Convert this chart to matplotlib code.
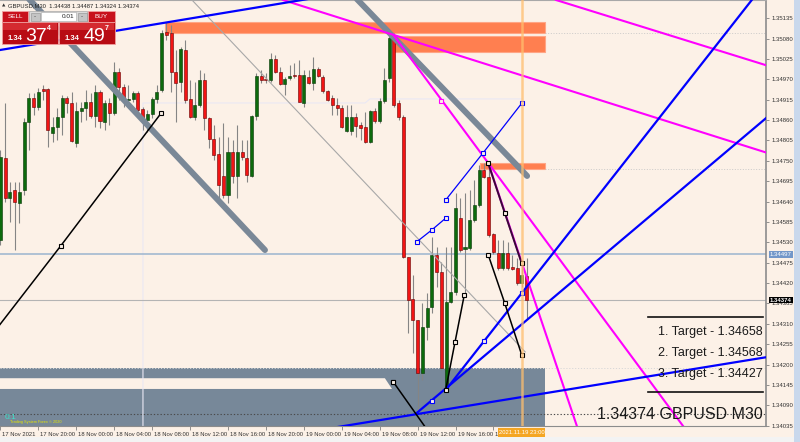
import numpy as np
import matplotlib.pyplot as plt
import matplotlib.transforms as mtransforms
from matplotlib.patches import Rectangle, Polygon

plt.rcParams['font.family'] = ['Liberation Sans', 'DejaVu Sans']

# GBPUSD M30 candles, bar 0 = 17 Nov 2021 16:00
opens = [1.34536, 1.34757, 1.34649, 1.34671, 1.34636, 1.34671, 1.34855, 1.34919, 1.34895, 1.34944,
         1.34944, 1.34825, 1.34841, 1.34868, 1.34919, 1.34906, 1.34798, 1.34884, 1.34892, 1.34909,
         1.34871, 1.34936, 1.34855, 1.34906, 1.34879, 1.34990, 1.34949, 1.34914, 1.34917, 1.34933,
         1.34890, 1.34860, 1.34876, 1.34917, 1.34941, 1.35098, 1.35095, 1.34990, 1.34963, 1.35049,
         1.34917, 1.34868, 1.34901, 1.34968, 1.34865, 1.34809, 1.34768, 1.34709, 1.34657, 1.34774,
         1.34709, 1.34774, 1.34757, 1.34709, 1.34871, 1.34979, 1.34970, 1.34968, 1.35025, 1.34990,
         1.34957, 1.34973, 1.34982, 1.34982, 1.34906, 1.34976, 1.34960, 1.34998, 1.34976, 1.34938,
         1.34919, 1.34901, 1.34892, 1.34830, 1.34830, 1.34868, 1.34846, 1.34841, 1.34801, 1.34884,
         1.34857, 1.34911, 1.34973, 1.35084, 1.34906, 1.34868, 1.34490, 1.34377, 1.34320, 1.34177,
         1.34301, 1.34355, 1.34496, 1.34450, 1.34136, 1.34369, 1.34396, 1.34595, 1.34512, 1.34514,
         1.34590, 1.34631, 1.34725, 1.34706, 1.34552, 1.34501, 1.34460, 1.34501, 1.34462, 1.34460,
         1.34420, 1.34438]
highs = [1.34779, 1.34906, 1.34693, 1.34693, 1.34693, 1.34865, 1.34933, 1.34933, 1.34946, 1.34954,
         1.34946, 1.34868, 1.34892, 1.34928, 1.34925, 1.34936, 1.34909, 1.34909, 1.34941, 1.34933,
         1.34954, 1.34941, 1.34914, 1.34919, 1.35017, 1.35000, 1.34957, 1.34954, 1.34938, 1.34938,
         1.34895, 1.34887, 1.34922, 1.34954, 1.35103, 1.35125, 1.35117, 1.35049, 1.35057, 1.35076,
         1.34968, 1.34963, 1.34995, 1.34987, 1.34868, 1.34846, 1.34814, 1.34852, 1.34814, 1.34806,
         1.34846, 1.34806, 1.34806, 1.34873, 1.34987, 1.34995, 1.34987, 1.35041, 1.35036, 1.35003,
         1.34976, 1.35008, 1.35014, 1.35022, 1.34995, 1.34995, 1.35030, 1.35003, 1.34982, 1.34941,
         1.34928, 1.34919, 1.34901, 1.34901, 1.34901, 1.34879, 1.34855, 1.34882, 1.34887, 1.34892,
         1.34919, 1.35000, 1.35095, 1.35095, 1.34914, 1.34873, 1.34490, 1.34442, 1.34320, 1.34366,
         1.34393, 1.34544, 1.34517, 1.34477, 1.34517, 1.34517, 1.34663, 1.34649, 1.34663, 1.34671,
         1.34698, 1.34739, 1.34744, 1.34739, 1.34555, 1.34536, 1.34536, 1.34531, 1.34496, 1.34487,
         1.34482, 1.34487]
lows = [1.34522, 1.34639, 1.34585, 1.34509, 1.34582, 1.34657, 1.34779, 1.34873, 1.34887, 1.34914,
        1.34787, 1.34801, 1.34806, 1.34820, 1.34879, 1.34801, 1.34787, 1.34855, 1.34860, 1.34865,
        1.34841, 1.34838, 1.34833, 1.34846, 1.34873, 1.34914, 1.34895, 1.34895, 1.34909, 1.34879,
        1.34833, 1.34828, 1.34865, 1.34906, 1.34936, 1.35076, 1.34936, 1.34855, 1.34936, 1.34906,
        1.34865, 1.34860, 1.34895, 1.34833, 1.34784, 1.34752, 1.34636, 1.34649, 1.34636, 1.34690,
        1.34649, 1.34752, 1.34693, 1.34706, 1.34860, 1.34960, 1.34960, 1.34963, 1.34987, 1.34954,
        1.34928, 1.34968, 1.34973, 1.34909, 1.34895, 1.34957, 1.34941, 1.34976, 1.34933, 1.34911,
        1.34873, 1.34873, 1.34838, 1.34828, 1.34820, 1.34814, 1.34806, 1.34798, 1.34798, 1.34852,
        1.34852, 1.34906, 1.34963, 1.34895, 1.34860, 1.34487, 1.34285, 1.34231, 1.34069, 1.34158,
        1.34266, 1.34339, 1.34409, 1.34185, 1.34131, 1.34366, 1.34388, 1.34504, 1.34393, 1.34509,
        1.34585, 1.34625, 1.34703, 1.34544, 1.34498, 1.34455, 1.34455, 1.34455, 1.34455, 1.34415,
        1.34409, 1.34324]
closes = [1.34760, 1.34649, 1.34666, 1.34639, 1.34666, 1.34855, 1.34919, 1.34895, 1.34936, 1.34938,
          1.34833, 1.34841, 1.34868, 1.34919, 1.34906, 1.34803, 1.34884, 1.34892, 1.34909, 1.34871,
          1.34936, 1.34857, 1.34906, 1.34879, 1.34990, 1.34949, 1.34917, 1.34917, 1.34933, 1.34887,
          1.34860, 1.34876, 1.34917, 1.34936, 1.35095, 1.35090, 1.34990, 1.34960, 1.35052, 1.34914,
          1.34868, 1.34901, 1.34968, 1.34865, 1.34809, 1.34766, 1.34685, 1.34657, 1.34774, 1.34709,
          1.34774, 1.34760, 1.34712, 1.34871, 1.34979, 1.34968, 1.34967, 1.35025, 1.34990, 1.34957,
          1.34971, 1.34979, 1.34980, 1.34909, 1.34982, 1.34960, 1.34998, 1.34979, 1.34938, 1.34914,
          1.34901, 1.34892, 1.34841, 1.34868, 1.34868, 1.34844, 1.34838, 1.34801, 1.34884, 1.34857,
          1.34911, 1.34968, 1.35081, 1.34901, 1.34868, 1.34490, 1.34374, 1.34320, 1.34177, 1.34301,
          1.34352, 1.34496, 1.34450, 1.34190, 1.34369, 1.34396, 1.34622, 1.34509, 1.34517, 1.34590,
          1.34631, 1.34725, 1.34706, 1.34550, 1.34504, 1.34460, 1.34501, 1.34460, 1.34459, 1.34420,
          1.34442, 1.34374]

time_ticks = [0, 8, 16, 24, 32, 40, 48, 56, 64, 72, 80, 88, 96, 104]
time_labels = ['17 Nov 2021', '17 Nov 20:00', '18 Nov 00:00', '18 Nov 04:00', '18 Nov 08:00',
               '18 Nov 12:00', '18 Nov 16:00', '18 Nov 20:00', '19 Nov 00:00', '19 Nov 04:00',
               '19 Nov 08:00', '19 Nov 12:00', '19 Nov 16:00', '19 Nov 20:00']
price_ticks = [1.35135, 1.35080, 1.35025, 1.34970, 1.34915, 1.34860, 1.34805, 1.34750, 1.34695,
               1.34640, 1.34585, 1.34530, 1.34475, 1.34420, 1.34365, 1.34310, 1.34255, 1.34200,
               1.34145, 1.34090, 1.34035]
bid = 1.34374
hline_price = 1.34497
low_line = 1.34066
cursor_bar = 110
targets = ['1. Target - 1.34658', '2. Target - 1.34568', '3. Target - 1.34427']

# chart objects, anchors as (bar, price)
zones = [(34.7, 114.9, 1.35095, 1.35125), (83.0, 114.9, 1.35044, 1.35087), (101.2, 114.9, 1.34728, 1.34744)]
gray_box = (-1, 114.9, 1.34000, 1.34190)
gray_cut = [(-1, 1.34134), (-1, 1.34163), (81.1, 1.34163), (82.6, 1.34134)]
gray_trends = [[(4.0, 1.35214), (55.8, 1.34509)], [(73.5, 1.35209), (111.1, 1.34709)]]
thin_trend = [(40.4, 1.35184), (110.7, 1.34234)]
faint_step = [(30.06, 1.34034), (30.06, 1.34906), (76.9, 1.34906), (77.95, 1.34917), (110, 1.34917)]
magenta_rays = [[(59.6, 1.35184), (82.87, 1.35090)], [(117.2, 1.35184), (161.5, 1.35008)],
                [(82.87, 1.35090), (144.0, 1.34034)], [(102.9, 1.34744), (121.6, 1.34034)]]
magenta_marks = [(92.9, 1.34912)]
blue_rays = [[(-0.1, 1.35049), (63.6, 1.35184)], [(71.0, 1.34031), (161.7, 1.34220)],
             [(93.92, 1.34131), (158.5, 1.35184)], [(87.8, 1.34069), (161.5, 1.34865)]]
blue_marks = [(102.0, 1.34263), (109.96, 1.34393), (90.97, 1.34101)]
thin_blue = [[(87.8, 1.34531), (90.97, 1.34563), (93.92, 1.34595)],
             [(93.92, 1.34644), (101.86, 1.34772), (109.96, 1.34905)]]
black_legs = [[(-1.5, 1.34285), (12.76, 1.34521), (33.86, 1.34878)],
              [(82.87, 1.34153), (91.0, 1.34006)],
              [(93.92, 1.34131), (95.9, 1.34261), (97.85, 1.34388)],
              [(102.9, 1.34496), (106.4, 1.34365), (109.96, 1.34226)]]
dark_leg = [(102.9, 1.34743), (106.4, 1.34609), (109.96, 1.34473)]

bg = '#FCF1E7'
fig = plt.figure(figsize=(8, 4.42), dpi=100)
fig.patch.set_facecolor(bg)
ax = fig.add_axes([0, 16 / 442, 766 / 800, 426 / 442])
ax.set_facecolor(bg)
ax.set_xlim(-0.1, 161.5)
ax.set_ylim(1.34034, 1.35184)

# background objects
for x0, x1, p0, p1 in zones:
    ax.add_patch(Rectangle((x0, p0), x1 - x0, p1 - p0, fc='#FF7F50', ec='#FFA585', lw=0.8, zorder=1))
ax.add_patch(Rectangle((gray_box[0], gray_box[2]), gray_box[1] - gray_box[0], gray_box[3] - gray_box[2],
                       fc='#778899', ec='none', zorder=1))
ax.add_patch(Polygon(gray_cut, closed=True, fc=bg, ec='none', zorder=1.1))
ax.plot([p[0] for p in faint_step], [p[1] for p in faint_step], color='#EAE8F4', lw=0.8, zorder=1.2)

ax.axhline(hline_price, color='#A9BDD2', lw=1.3, zorder=1.5)
ax.axhline(bid, color='#B4B4B4', lw=0.8, zorder=1.5)
ax.axhline(low_line, color='#4A4A4A', lw=0.8, ls=(0, (1.2, 1.8)), zorder=1.5)
ax.axhline(gray_box[3], color='#D8D8D8', lw=0.7, ls=(0, (1.2, 1.8)), zorder=1.5)
for z in zones[::2]:
    ax.plot([z[1], 161.5], [z[2], z[2]], color='#C4C4C4', lw=0.6, ls=(0, (1.2, 2)), zorder=1.5)

# candles
x = np.arange(len(opens))
o = np.array(opens)
h = np.array(highs)
l = np.array(lows)
c = np.array(closes)
up = c >= o
ax.vlines(x, l, h, color='#858585', lw=0.8, zorder=3)
body_lo = np.minimum(o, c)
body_h = np.maximum(np.abs(c - o), 0.000025)
ax.bar(x, body_h, bottom=body_lo, width=0.64,
       color=np.where(up, '#0C6A0C', '#F21414'),
       edgecolor=np.where(up, '#053505', '#650000'), linewidth=0.4, zorder=4)

# trend lines
ax.plot([thin_trend[0][0], thin_trend[1][0]], [thin_trend[0][1], thin_trend[1][1]], color='#A8A8A8', lw=0.8, zorder=5)
for seg in gray_trends:
    ax.plot([seg[0][0], seg[1][0]], [seg[0][1], seg[1][1]], color='#7A8897', lw=4.3,
            solid_capstyle='round', zorder=5)


def ray(a, b, x_end=175):
    k = (b[1] - a[1]) / (b[0] - a[0])
    return [a[0], x_end], [a[1], a[1] + k * (x_end - a[0])]


for a, b in magenta_rays:
    xs, ys = ray(a, b)
    ax.plot(xs, ys, color='#FF00FF', lw=1.5, zorder=6)
for a, b in blue_rays:
    xs, ys = ray(a, b)
    ax.plot(xs, ys, color='#0000FF', lw=1.6, zorder=6)

sq = dict(marker='s', markersize=3, markerfacecolor=bg, markeredgewidth=0.8)
ax.plot(*zip(*magenta_marks), ls='none', markeredgecolor='#FF00FF', zorder=7, **sq)
ax.plot(*zip(*blue_marks), ls='none', markeredgecolor='#0000FF', zorder=7, **sq)
for seg in thin_blue:
    ax.plot(*zip(*seg), color='#0000FF', lw=0.9, markeredgecolor='#0000FF', zorder=7, **sq)
for seg in black_legs:
    ax.plot(*zip(*seg), color='#000000', lw=1.1, markeredgecolor='#000000', zorder=7, **sq)
ax.plot([black_legs[1][0][0]], [black_legs[1][0][1]], color='k', **sq)
ax.plot(*zip(*dark_leg), color='#3A0A38', lw=1.4, markeredgecolor='#000000', zorder=7, **sq)

ax.axvline(cursor_bar, color='#FFBE6E', lw=1.8, alpha=0.75, zorder=9)

# axes
ax.yaxis.tick_right()
ax.set_yticks(price_ticks)
ax.set_yticklabels([f'{p:.5f}' for p in price_ticks], fontsize=4.3, color='#333333')
ax.tick_params(axis='y', length=2.5, width=0.6, color='#808080', pad=1.2)
ax.set_xticks(time_ticks)
ax.set_xticklabels(time_labels, fontsize=4.2, color='#333333', ha='left')
ax.tick_params(axis='x', length=3, width=0.6, color='#808080', pad=1.2)
offset = mtransforms.ScaledTranslation(2 / 100, 0, fig.dpi_scale_trans)
for lab in ax.get_xticklabels():
    lab.set_transform(lab.get_transform() + offset)
for s in ['left']:
    ax.spines[s].set_visible(False)
ax.spines['right'].set_color('#8C8C8C')
ax.spines['right'].set_linewidth(1.2)
ax.spines['bottom'].set_color('#8C8C8C')
ax.spines['top'].set_color('#A8A8A8')
ax.spines['top'].set_linewidth(0.8)

tr = mtransforms.blended_transform_factory(ax.transAxes, ax.transData)
ax.text(1.005, hline_price, f'{hline_price:.5f}', transform=tr, fontsize=4.3, color='white', va='center',
        bbox=dict(boxstyle='square,pad=0.15', fc='#7397C9', ec='none'), clip_on=False, zorder=10)
ax.text(1.005, bid, f'{bid:.5f}', transform=tr, fontsize=4.3, color='white', va='center', fontweight='bold',
        bbox=dict(boxstyle='square,pad=0.15', fc='#000000', ec='none'), clip_on=False, zorder=10)

# overlay in pixel coordinates: trade panel and text labels
ov = fig.add_axes([0, 0, 1, 1])
ov.set_xlim(0, 800)
ov.set_ylim(442, 0)
ov.axis('off')
ov.patch.set_alpha(0)

ov.add_patch(Rectangle((794, 0), 6, 442, fc='#C9D8EC', ec='none'))
ov.add_patch(Rectangle((0, 437), 794, 5, fc='#F3F3F3', ec='none'))

ov.text(1.5, 5.5, '▲', fontsize=3.2, color='#333333', va='center', family='DejaVu Sans')
ov.text(8, 5.5, 'GBPUSD,M30  1.34438 1.34487 1.34324 1.34374', fontsize=4.2, color='#222222', va='center')

red = '#C8121C'
ov.add_patch(Rectangle((2, 11), 26, 11, fc=red, ec='#F0A0A0', lw=0.6))
ov.text(15, 16.8, 'SELL', color='white', fontsize=4.6, ha='center', va='center')
ov.add_patch(Rectangle((29, 11), 58, 11, fc='#D9D9D9', ec='#A8A8A8', lw=0.5))
ov.add_patch(Rectangle((30.5, 12.5), 9, 8, fc='#C4C4C4', ec='#909090', lw=0.4))
ov.text(35, 16.5, '-', fontsize=4.5, ha='center', va='center', color='#333333')
ov.add_patch(Rectangle((41, 12), 35, 9, fc='white', ec='#A8A8A8', lw=0.4))
ov.text(74, 16.8, '0.01', fontsize=4.6, ha='right', va='center', color='#222222')
ov.add_patch(Rectangle((77.5, 12.5), 9, 8, fc='#C4C4C4', ec='#909090', lw=0.4))
ov.text(82, 16.5, '-', fontsize=4.5, ha='center', va='center', color='#333333')
ov.add_patch(Rectangle((88, 11), 27, 11, fc=red, ec='#F0A0A0', lw=0.6))
ov.text(101.5, 16.8, 'BUY', color='white', fontsize=4.6, ha='center', va='center')
for bx in [2, 59]:
    ov.add_patch(Rectangle((bx, 22), 55.5, 21.5, fc='#B80C14', ec='#F0A0A0', lw=0.6))
    ov.add_patch(Rectangle((bx + 0.5, 22.5), 54.5, 7, fc='#D42A30', ec='none'))
ov.text(8, 40, '1.34', fontsize=5.5, color='white', va='baseline', fontweight='bold')
ov.text(25.5, 41, '37', fontsize=14, color='white', va='baseline')
ov.text(47, 30, '4', fontsize=5, color='white', va='baseline', fontweight='bold')
ov.text(65, 40, '1.34', fontsize=5.5, color='white', va='baseline', fontweight='bold')
ov.text(83, 41, '49', fontsize=14, color='white', va='baseline')
ov.text(105, 30, '7', fontsize=5, color='white', va='baseline', fontweight='bold')

# target box
ov.plot([648, 763], [317, 317], color='#111111', lw=1.2)
ov.plot([648, 763], [392, 392], color='#111111', lw=1.2)
for i, t in enumerate(targets):
    ov.text(763, 332 + i * 21, t, fontsize=9, color='#1A1A1A', ha='right', va='center')
ov.text(763, 414.5, f'{bid:.5f} GBPUSD M30', fontsize=11.5, color='#1A1A1A', ha='right', va='center')

ov.text(5, 417.5, '0:1', fontsize=6, color='#3FE0C8', va='center')
ov.text(10, 422, 'Trading System Forex © 2020', fontsize=2.8, color='#E8E800', va='center')

ov.add_patch(Rectangle((498, 427.5), 47, 9, fc='#F5A623', ec='none'))
ov.text(521.5, 432, '2021.11.19 23:00', fontsize=4.2, color='white', ha='center', va='center')

fig.savefig('out.png', dpi=100, facecolor=fig.get_facecolor())
